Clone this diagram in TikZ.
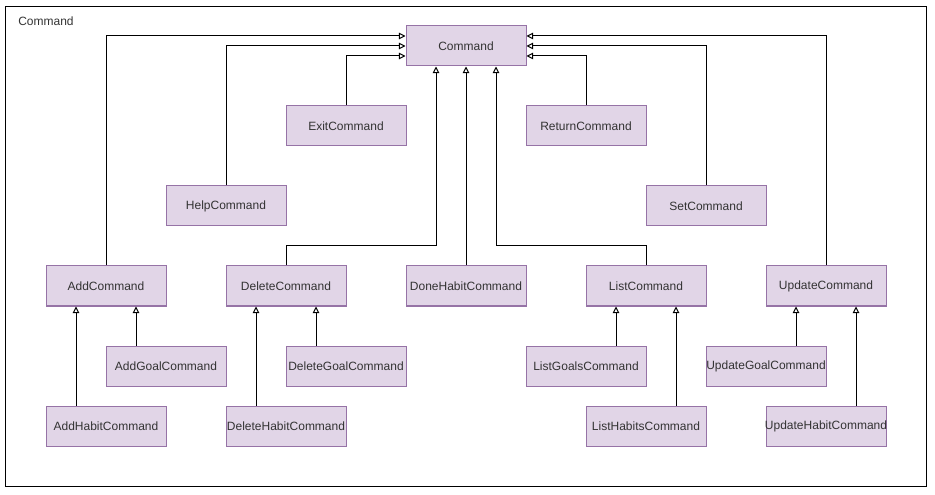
\documentclass[tikz,border=0pt]{standalone}
\usepackage{fontspec}
\setmainfont{Liberation Sans}
\usetikzlibrary{arrows.meta}
\definecolor{boxfill}{HTML}{E1D5E7}
\definecolor{boxdraw}{HTML}{9673A6}
\begin{document}
\begin{tikzpicture}[x=0.75pt,y=-0.75pt,
  cls/.style={draw=boxdraw,fill=boxfill,line width=0.75pt,minimum width=90pt,minimum height=30pt,inner sep=0pt,font=\fontsize{9}{11}\selectfont,text=black!80,
    execute at begin node={\hbox to 0pt\bgroup\hss},execute at end node={\hss\egroup}},
  inh/.style={draw=black,line width=0.75pt,-{Triangle[open,length=5pt,width=5pt,fill=white]}}]
\useasboundingbox (0,0) rectangle (935,495);
\draw[line width=0.75pt] (5.5,6.5) rectangle (926.5,486.5);
\node[anchor=west,inner sep=0pt,font=\fontsize{9}{11}\selectfont,text=black!80] (title) at (18,21) {Command};
\node[cls] (cmd) at (466,46) {Command};
\node[cls] (exit) at (346,126) {ExitCommand};
\node[cls] (ret) at (586,126) {ReturnCommand};
\node[cls] (help) at (226,206) {HelpCommand};
\node[cls] (set) at (706,206) {SetCommand};
\node[cls] (add) at (106,286) {AddCommand};
\node[cls] (del) at (286,286) {DeleteCommand};
\node[cls] (done) at (466,286) {DoneHabitCommand};
\node[cls] (list) at (646,286) {ListCommand};
\node[cls] (upd) at (826,286) {UpdateCommand};
\node[cls] (addg) at (166,366) {AddGoalCommand};
\node[cls] (delg) at (346,366) {DeleteGoalCommand};
\node[cls] (listg) at (586,366) {ListGoalsCommand};
\node[cls] (updg) at (766,366) {UpdateGoalCommand};
\node[cls] (addh) at (106,426) {AddHabitCommand};
\node[cls] (delh) at (286,426) {DeleteHabitCommand};
\node[cls] (listh) at (646,426) {ListHabitsCommand};
\node[cls] (updh) at (826,426) {UpdateHabitCommand};
% to Command
\draw[inh] (add.north) |- ([yshift=7.5pt]cmd.west);
\draw[inh] (help.north) |- (cmd.west);
\draw[inh] (exit.north) |- ([yshift=-7.5pt]cmd.west);
\draw[inh] (upd.north) |- ([yshift=7.5pt]cmd.east);
\draw[inh] (set.north) |- (cmd.east);
\draw[inh] (ret.north) |- ([yshift=-7.5pt]cmd.east);
\draw[inh] (del.north) -- ++(0,-20) -| ([xshift=-22.5pt]cmd.south);
\draw[inh] (done.north) -- (cmd.south);
\draw[inh] (list.north) -- ++(0,-20) -| ([xshift=22.5pt]cmd.south);
% subclasses
\draw[inh] ([xshift=-22.5pt]addh.north) -- ([xshift=-22.5pt]add.south);
\draw[inh] ([xshift=-22.5pt]addg.north) -- ([xshift=22.5pt]add.south);
\draw[inh] ([xshift=-22.5pt]delh.north) -- ([xshift=-22.5pt]del.south);
\draw[inh] ([xshift=-22.5pt]delg.north) -- ([xshift=22.5pt]del.south);
\draw[inh] ([xshift=22.5pt]listg.north) -- ([xshift=-22.5pt]list.south);
\draw[inh] ([xshift=22.5pt]listh.north) -- ([xshift=22.5pt]list.south);
\draw[inh] ([xshift=22.5pt]updg.north) -- ([xshift=-22.5pt]upd.south);
\draw[inh] ([xshift=22.5pt]updh.north) -- ([xshift=22.5pt]upd.south);
\end{tikzpicture}
\end{document}
